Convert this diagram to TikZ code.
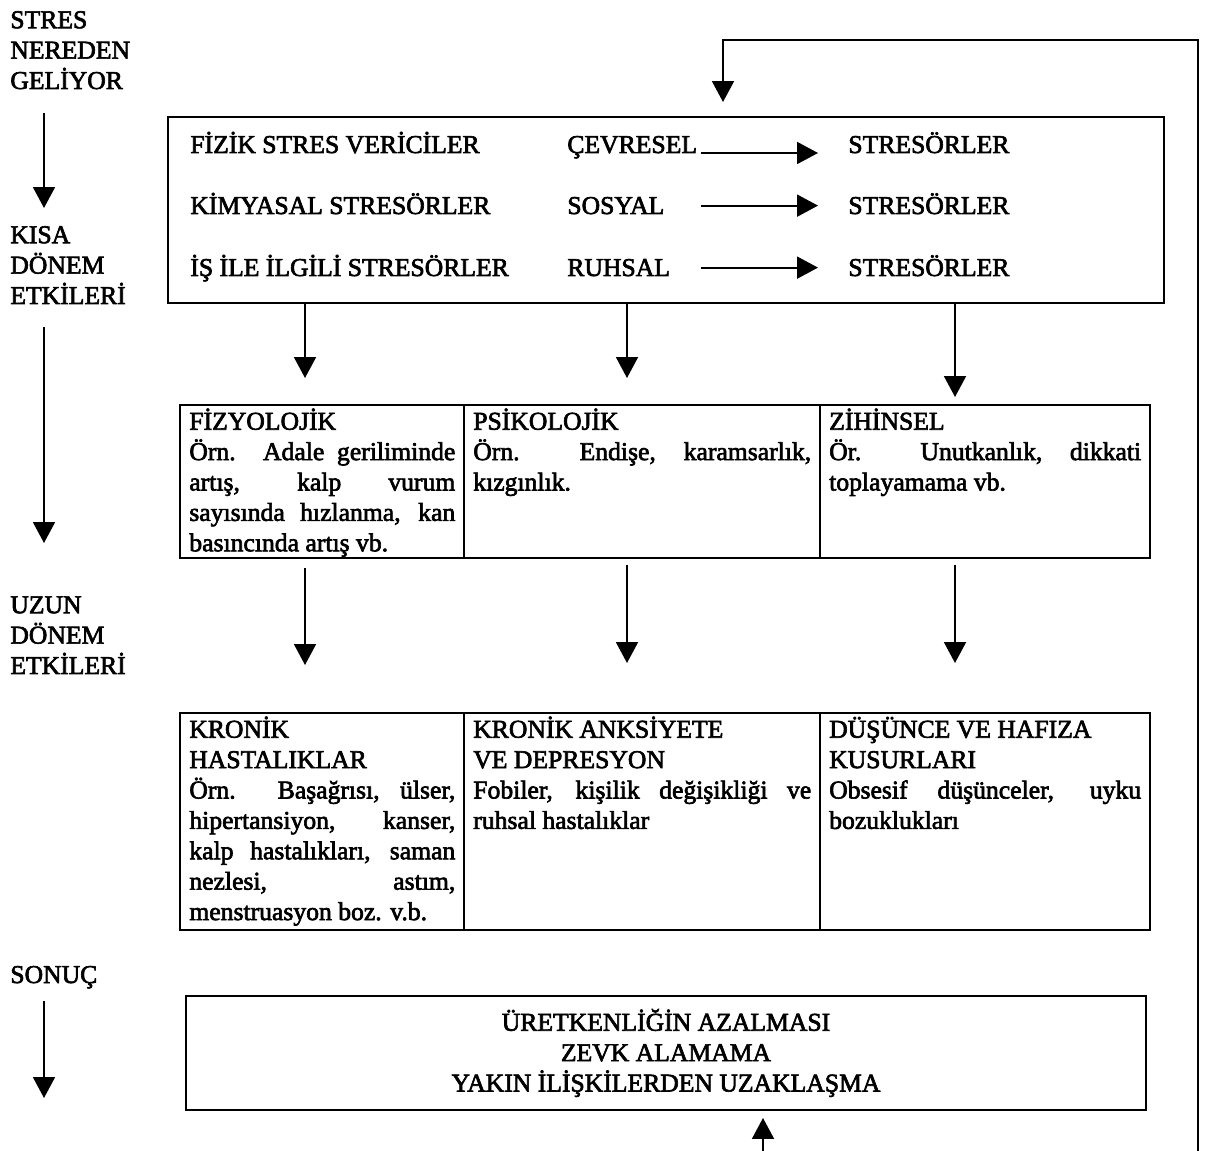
\documentclass[tikz,border=0pt]{standalone}
\usepackage{fontspec}
\setmainfont{Liberation Serif}[FakeBold=2.5]
\usepackage{tikz}
\usetikzlibrary{arrows.meta,positioning}
\tikzset{>={Triangle[length=0.42cm,width=0.44cm]}}
\tikzset{
  kutu/.style={draw, line width=1.1pt, inner sep=0pt, outer sep=0pt},
  yazi/.style={inner sep=0pt, font=\fontsize{14.6pt}{17.3pt}\selectfont},
  akis/.style={->, line width=1.1pt},
}
\newcommand\ust{\rule{0pt}{13pt}}
\hyphenpenalty=10000
\exhyphenpenalty=10000

\begin{document}
\begin{tikzpicture}[x=0.02cm, y=-0.02cm]
\useasboundingbox (0,0) rectangle (1213,1151);

\node[yazi, anchor=north west, align=left] (nereden) at (10,5) {\ust STRES\\NEREDEN\\GELİYOR};
\node[yazi, anchor=north west, align=left] (kisa) at (10,220) {\ust KISA\\DÖNEM\\ETKİLERİ};
\node[yazi, anchor=north west, align=left] (uzun) at (10,590) {\ust UZUN\\DÖNEM\\ETKİLERİ};
\node[yazi, anchor=base west] (sonuc) at (10,983) {SONUÇ};

\node[kutu, minimum width=19.92cm, minimum height=3.72cm] (kaynak) at (666,210) {};
\node[yazi, anchor=base west] (fizik) at (190,153) {FİZİK STRES VERİCİLER};
\node[yazi, anchor=base west] (kimya) at (190,214) {KİMYASAL STRESÖRLER};
\node[yazi, anchor=base west] (isle) at (190,276) {İŞ İLE İLGİLİ STRESÖRLER};
\node[yazi, anchor=base west, text width=2.66cm] (cevre) at (567,153) {ÇEVRESEL};
\node[yazi, anchor=base west, text width=2.66cm] (sosyal) at (567,214) {SOSYAL};
\node[yazi, anchor=base west, text width=2.66cm] (ruhsal) at (567,276) {RUHSAL};
\node[yazi, anchor=base west] (str1) at (848,153) {STRESÖRLER};
\node[yazi, anchor=base west] (str2) at (848,214) {STRESÖRLER};
\node[yazi, anchor=base west] (str3) at (848,276) {STRESÖRLER};
\draw[akis, shorten >=0.6cm] (cevre.base east) -- (cevre.base east -| str1.west);
\draw[akis, shorten >=0.6cm] (sosyal.east) -- (sosyal.east -| str2.west);
\draw[akis, shorten >=0.6cm] (ruhsal.east) -- (ruhsal.east -| str3.west);

\node[kutu, anchor=north west, minimum width=5.68cm, minimum height=3.06cm] (fizyo) at (180,405) {};
\node[kutu, anchor=north west, minimum width=7.12cm, minimum height=3.06cm] (psiko) at (fizyo.north east) {};
\node[kutu, anchor=north west, minimum width=6.6cm, minimum height=3.06cm] (zihin) at (psiko.north east) {};
\node[yazi, anchor=north west, text width=5.32cm, align=justify, inner xsep=0.18cm, inner ysep=0.03cm] (fizyoT) at (fizyo.north west)
  {\ust FİZYOLOJİK\\Örn. Adale geriliminde\linebreak artış, kalp vurum\linebreak sayısında hızlanma, kan\linebreak basıncında artış vb.};
\node[yazi, anchor=north west, text width=6.76cm, align=justify, inner xsep=0.18cm, inner ysep=0.03cm] (psikoT) at (psiko.north west)
  {\ust PSİKOLOJİK\\Örn. Endişe, karamsarlık,\linebreak kızgınlık.};
\node[yazi, anchor=north west, text width=6.24cm, align=justify, inner xsep=0.18cm, inner ysep=0.03cm] (zihinT) at (zihin.north west)
  {\ust ZİHİNSEL\\Ör. Unutkanlık, dikkati\linebreak toplayamama vb.};

\node[kutu, anchor=north west, minimum width=5.68cm, minimum height=4.34cm] (kronik) at (180,713) {};
\node[kutu, anchor=north west, minimum width=7.12cm, minimum height=4.34cm] (anksiyete) at (kronik.north east) {};
\node[kutu, anchor=north west, minimum width=6.6cm, minimum height=4.34cm] (dusunce) at (anksiyete.north east) {};
\node[yazi, anchor=north west, text width=5.32cm, align=justify, inner xsep=0.18cm, inner ysep=0.03cm] (kronikT) at (kronik.north west)
  {\ust KRONİK\\HASTALIKLAR\\Örn. Başağrısı, ülser,\linebreak hipertansiyon, kanser,\linebreak kalp hastalıkları, saman\linebreak nezlesi, astım,\linebreak menstruasyon boz. v.b.};
\node[yazi, anchor=north west, text width=6.76cm, align=justify, inner xsep=0.18cm, inner ysep=0.03cm] (anksiyeteT) at (anksiyete.north west)
  {\ust KRONİK ANKSİYETE\\VE DEPRESYON\\Fobiler, kişilik değişikliği ve\linebreak ruhsal hastalıklar};
\node[yazi, anchor=north west, text width=6.24cm, align=justify, inner xsep=0.18cm, inner ysep=0.03cm] (dusunceT) at (dusunce.north west)
  {\ust DÜŞÜNCE VE HAFIZA\\KUSURLARI\\Obsesif düşünceler, uyku\linebreak bozuklukları};

\node[kutu, yazi, minimum width=19.2cm, minimum height=2.28cm, align=center] (verim) at (666,1053)
  {ÜRETKENLİĞİN AZALMASI\\ZEVK ALAMAMA\\YAKIN İLİŞKİLERDEN UZAKLAŞMA};

\coordinate (k1) at (305,0);
\coordinate (k2) at (627,0);
\coordinate (k3) at (955,0);
\draw[akis, shorten >=0.54cm] (kaynak.south -| k1) -- (fizyo.north -| k1);
\draw[akis, shorten >=0.54cm] (kaynak.south -| k2) -- (psiko.north -| k2);
\draw[akis, shorten >=0.16cm] (kaynak.south -| k3) -- (zihin.north -| k3);
\draw[akis, shorten <=0.2cm, shorten >=0.96cm] (fizyo.south -| k1) -- (kronik.north -| k1);
\draw[akis, shorten <=0.14cm, shorten >=1cm] (psiko.south -| k2) -- (anksiyete.north -| k2);
\draw[akis, shorten <=0.14cm, shorten >=1cm] (zihin.south -| k3) -- (dusunce.north -| k3);

\coordinate (sol) at (44,0);
\coordinate (bitis) at (44,1098);
\draw[akis, shorten <=0.46cm, shorten >=0.24cm] (nereden.south -| sol) -- (kisa.north -| sol);
\draw[akis, shorten <=0.46cm, shorten >=0.94cm] (kisa.south -| sol) -- (uzun.north -| sol);
\draw[akis, shorten <=0.24cm] (sonuc.south -| sol) -- (bitis);

\coordinate (donus) at (1198,1151);
\coordinate (giris) at (723,40);
\coordinate (alt) at (763,1151);
\draw[akis, shorten >=0.3cm] (donus) |- (giris) -- (giris |- kaynak.north);
\draw[akis, shorten >=0.16cm] (alt) -- (verim.south -| alt);
\end{tikzpicture}
\end{document}
